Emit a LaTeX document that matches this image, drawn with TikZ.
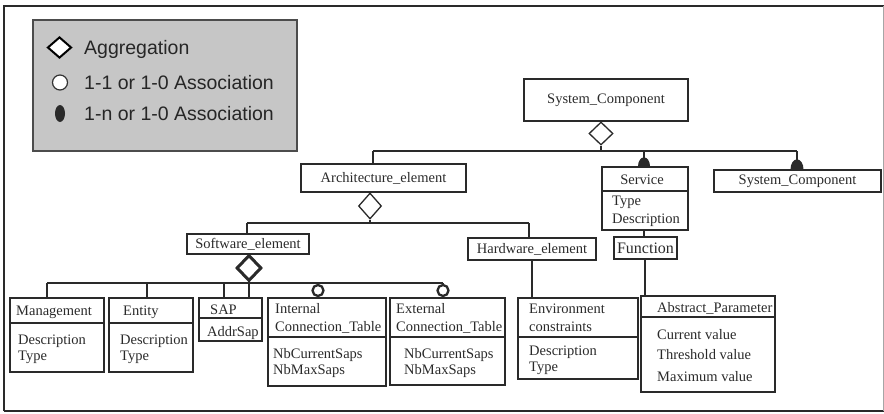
\documentclass[tikz,border=0pt]{standalone}
\usepackage{fontspec}
\setmainfont{Liberation Serif}
\newfontfamily\legfont{Liberation Sans}
\usetikzlibrary{shapes.geometric}
\definecolor{ink}{HTML}{2A2A2A}
\definecolor{leggray}{HTML}{C6C6C6}
\begin{document}
\begin{tikzpicture}[x=1pt,y=-1pt,
  box/.style={draw=ink,line width=1.3pt,rectangle,inner sep=0pt,text=ink,font=\fontsize{14.5}{16}\selectfont},
  txt/.style={inner sep=0pt,anchor=base west,text=ink,font=\fontsize{14.5}{16}\selectfont},
  conn/.style={draw=ink,line width=1.3pt},
  diam/.style={diamond,draw=ink,fill=white,line width=1.3pt,inner sep=0pt,minimum width=24pt,minimum height=24pt},
  ring/.style={circle,draw=ink,fill=white,line width=2.3pt,inner sep=0pt,minimum size=11pt},
  legtxt/.style={inner sep=0pt,anchor=base west,text=black!85,font=\legfont\fontsize{19.5}{22}\selectfont},
  frame/.style={draw=ink,line width=2pt}
]
\useasboundingbox (0,0) rectangle (884,413);
% outer frame
\draw[frame] (4,411) -- (4,6) -- (884,6);
\draw[frame] (4,411) -- (884,411);
\draw[draw=black!35,line width=0.8pt] (883,6) -- (883,411);

% legend
\node[draw=black!70,fill=leggray,line width=1.5pt,minimum width=264pt,minimum height=131pt,inner sep=0pt] (leg) at (165,85.5) {};
\node[diamond,draw=black,fill=white,line width=2pt,inner sep=0pt,minimum width=24pt,minimum height=21pt] (lgd) at (59.5,47.5) {};
\node[circle,draw=black!80,fill=white,line width=1.2pt,inner sep=0pt,minimum size=15pt] (lgc) at (60,82.5) {};
\node[ellipse,fill=ink,inner sep=0pt,minimum width=10pt,minimum height=17pt] (lge) at (60,113.5) {};
\node[legtxt] (lt1) at (84,54.5) {Aggregation};
\node[legtxt] (lt2) at (84,89.5) {1-1 or 1-0 Association};
\node[legtxt] (lt3) at (84,120.5) {1-n or 1-0 Association};

% boxes
\node[box,minimum width=164pt,minimum height=42pt] (sc1) at (606,100) {System\_Component};
\node[box,minimum width=165pt,minimum height=28pt] (arch) at (383.5,178) {Architecture\_element};
\node[box,minimum width=86pt,minimum height=63pt] (svc) at (645,198.5) {};
\node[box,minimum width=167pt,minimum height=22pt] (sc2) at (797.5,181) {System\_Component};
\node[box,minimum width=122pt,minimum height=20pt] (sw) at (248,244) {Software\_element};
\node[box,minimum width=128pt,minimum height=22pt] (hw) at (532,249) {Hardware\_element};
\node[box,minimum width=63pt,minimum height=22pt,font=\fontsize{16}{18}\selectfont] (fn) at (645.5,248) {Function};
\node[box,minimum width=94pt,minimum height=74pt] (mg) at (57,335) {};
\node[box,minimum width=84pt,minimum height=74pt] (en) at (151,335) {};
\node[box,minimum width=63pt,minimum height=43pt] (sap) at (230.5,319.5) {};
\node[box,minimum width=118pt,minimum height=88pt] (ict) at (327,342) {};
\node[box,minimum width=115pt,minimum height=87pt] (ect) at (447.5,341.5) {};
\node[box,minimum width=120pt,minimum height=81pt] (env) at (578,338.5) {};
\node[box,minimum width=134pt,minimum height=96pt] (ap) at (708,344) {};

% dividers
\coordinate (dv1) at (0,191);
\coordinate (dv2) at (0,323);
\coordinate (dv3) at (0,318);
\coordinate (dv4) at (0,337);
\coordinate (dv5) at (0,317);
\draw[conn] (svc.west |- dv1) -- (svc.east |- dv1);
\draw[conn] (mg.west |- dv2) -- (mg.east |- dv2);
\draw[conn] (en.west |- dv2) -- (en.east |- dv2);
\draw[conn] (sap.west |- dv3) -- (sap.east |- dv3);
\draw[conn] (ict.west |- dv4) -- (ict.east |- dv4);
\draw[conn] (ect.west |- dv4) -- (ect.east |- dv4);
\draw[conn] (env.west |- dv4) -- (env.east |- dv4);
\draw[conn] (ap.west |- dv5) -- (ap.east |- dv5);

% texts in boxes
\node[inner sep=0pt,anchor=base,text=ink,font=\fontsize{14.5}{16}\selectfont] (svct) at (642,184) {Service};
\node[txt] (svc1) at (612,205) {Type};
\node[txt] (svc2) at (612,223) {Description};
\node[txt] (mgt) at (16,315) {Management};
\node[txt] (mg1) at (18,344) {Description};
\node[txt] (mg2) at (18,360) {Type};
\node[txt] (ent) at (123,315) {Entity};
\node[txt] (en1) at (120,344) {Description};
\node[txt] (en2) at (120,360) {Type};
\node[txt] (sapt) at (210,314) {SAP};
\node[txt] (sap1) at (207,336) {AddrSap};
\node[txt] (ictt1) at (275,313) {Internal};
\node[txt] (ictt2) at (275,331) {Connection\_Table};
\node[txt] (ict1) at (273,358) {NbCurrentSaps};
\node[txt] (ict2) at (273,374) {NbMaxSaps};
\node[txt] (ectt1) at (396,313) {External};
\node[txt] (ectt2) at (396,331) {Connection\_Table};
\node[txt] (ect1) at (404,358) {NbCurrentSaps};
\node[txt] (ect2) at (404,374) {NbMaxSaps};
\node[txt] (envt1) at (529,313) {Environment};
\node[txt] (envt2) at (529,331) {constraints};
\node[txt] (env1) at (529,355) {Description};
\node[txt] (env2) at (529,371) {Type};
\node[txt] (apt) at (657,312) {Abstract\_Parameter};
\node[txt] (ap1) at (657,339) {Current value};
\node[txt] (ap2) at (657,359) {Threshold value};
\node[txt] (ap3) at (657,381) {Maximum value};

% top level: System_Component aggregation
\node[diam,minimum width=24pt,minimum height=23pt] (d1) at (601,133.5) {};
\coordinate (b1) at (373,151);
\coordinate (b2) at (797,151);
\coordinate (s1) at (644,151);
\draw[conn] (d1.south) -- (d1.south |- b1);
\draw[conn] (b1) -- (b2);
\draw[conn] (b1) -- (b1 |- arch.north);
\draw[conn] (s1) -- (s1 |- svc.north);
\draw[conn] (b2) -- (b2 |- sc2.north);
\fill[ink] (s1 |- svc.north) ++(-6pt,0) arc[start angle=180,end angle=0,x radius=6pt,y radius=9pt] -- cycle;
\fill[ink] (b2 |- sc2.north) ++(-6.5pt,0) arc[start angle=180,end angle=0,x radius=6.5pt,y radius=10pt] -- cycle;

% Service - Function - Abstract_Parameter
\coordinate (f1) at (644,0);
\draw[conn] (f1 |- svc.south) -- (f1 |- fn.north);
\coordinate (f2) at (645,0);
\draw[conn] (f2 |- fn.south) -- (f2 |- ap.north);

% Architecture aggregation
\node[diam,minimum width=23pt,minimum height=26pt] (d2) at (370,206) {};
\coordinate (a1) at (247,223);
\coordinate (a2) at (529,223);
\draw[conn] (d2.south) -- (d2.south |- a1);
\draw[conn] (a1) -- (a2);
\draw[conn] (a1) -- (a1 |- sw.north);
\draw[conn] (a2) -- (a2 |- hw.north);
\coordinate (h1) at (532,0);
\draw[conn] (h1 |- hw.south) -- (h1 |- env.north);

% Software aggregation
\node[diam,line width=3pt,minimum width=25pt,minimum height=26pt] (d3) at (249,268) {};
\coordinate (c1) at (47,283);
\coordinate (c2) at (443,283);
\coordinate (c3) at (147,283);
\coordinate (c4) at (224,283);
\coordinate (c5) at (318,283);
\draw[conn] (c1) -- (c2);
\draw[conn] (d3.south) -- (d3.south |- sap.north);
\draw[conn] (c1) -- (c1 |- mg.north);
\draw[conn] (c3) -- (c3 |- en.north);
\draw[conn] (c4) -- (c4 |- sap.north);
\node[ring] (r1) at (318,290.5) {};
\node[ring] (r2) at (443,290.5) {};
\draw[conn] (c5) -- (r1.north);
\draw[conn] (c2) -- (r2.north);
\end{tikzpicture}
\end{document}
